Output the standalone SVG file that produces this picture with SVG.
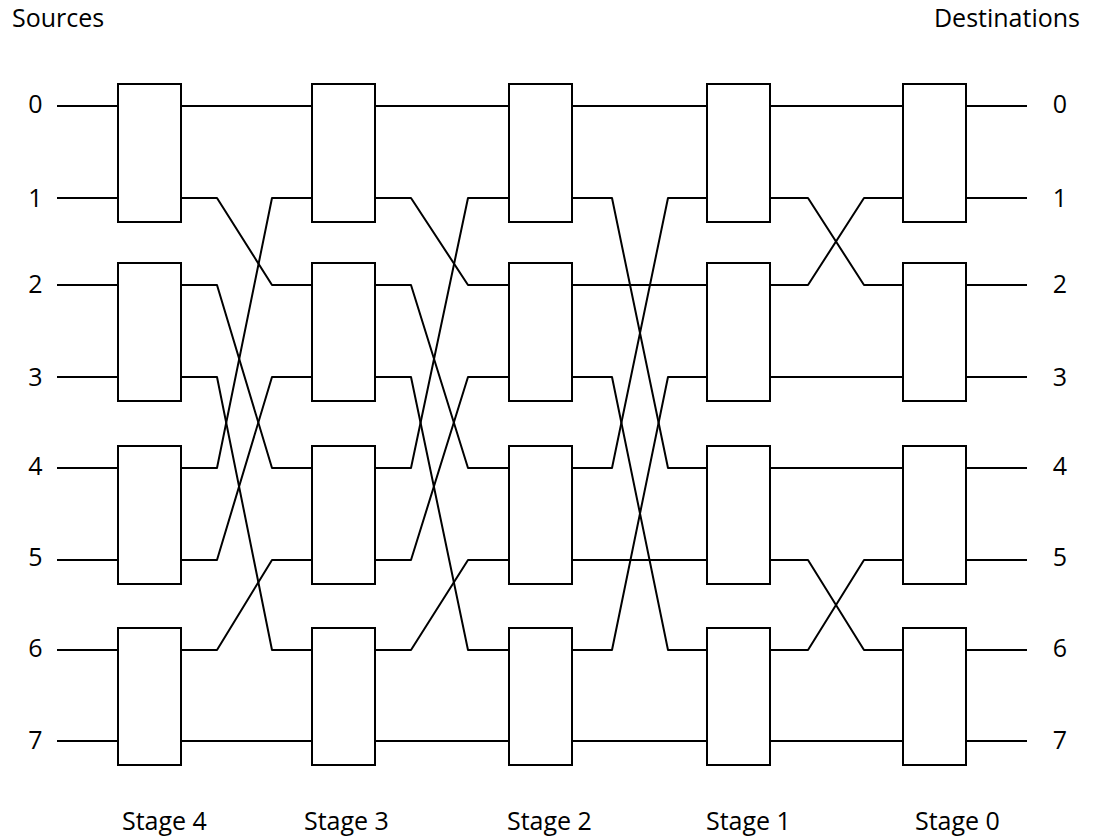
<svg xmlns="http://www.w3.org/2000/svg" width="1093" height="839" viewBox="0 0 1093 839">
  <style>
    .box { fill: #ffffff; stroke: #000000; stroke-width: 2; }
    .wire { fill: none; stroke: #000000; stroke-width: 2; stroke-linejoin: round; }
    .lbl { font-family: "Open Sans", "Liberation Sans", sans-serif; font-size: 25px; fill: #000000; }
    .num { text-anchor: middle; }
  </style>
  <rect width="1093" height="839" fill="#ffffff"/>

  <!-- headings -->
  <g id="headings">
    <text class="lbl" x="12" y="27">Sources</text>
    <text class="lbl" x="1080" y="27" text-anchor="end">Destinations</text>
  </g>

  <!-- line numbers, source side and destination side -->
  <g id="source-numbers">
    <text class="lbl num" x="35.5" y="113">0</text>
    <text class="lbl num" x="35.5" y="207">1</text>
    <text class="lbl num" x="35.5" y="293">2</text>
    <text class="lbl num" x="35.5" y="386">3</text>
    <text class="lbl num" x="35.5" y="475">4</text>
    <text class="lbl num" x="35.5" y="566">5</text>
    <text class="lbl num" x="35.5" y="657">6</text>
    <text class="lbl num" x="35.5" y="749">7</text>
  </g>
  <g id="destination-numbers">
    <text class="lbl num" x="1060" y="113">0</text>
    <text class="lbl num" x="1060" y="207">1</text>
    <text class="lbl num" x="1060" y="293">2</text>
    <text class="lbl num" x="1060" y="386">3</text>
    <text class="lbl num" x="1060" y="475">4</text>
    <text class="lbl num" x="1060" y="566">5</text>
    <text class="lbl num" x="1060" y="657">6</text>
    <text class="lbl num" x="1060" y="749">7</text>
  </g>

  <!-- stage captions -->
  <g id="stage-labels">
    <text class="lbl" x="122" y="830">Stage 4</text>
    <text class="lbl" x="304" y="830">Stage 3</text>
    <text class="lbl" x="507" y="830">Stage 2</text>
    <text class="lbl" x="706" y="830">Stage 1</text>
    <text class="lbl" x="915" y="830">Stage 0</text>
  </g>

  <!-- wiring between stages -->
  <g id="connectors" class="wire">
    <!-- inputs -->
    <path d="M57 106H118M57 198H118M57 285H118M57 377H118M57 468H118M57 560H118M57 650H118M57 741H118"/>
    <!-- stage 4 to stage 3 -->
    <path d="M181 106H312"/>
    <path d="M181 198H217L272 285H312"/>
    <path d="M181 285H217L272 468H312"/>
    <path d="M181 377H217L272 650H312"/>
    <path d="M181 468H217L272 198H312"/>
    <path d="M181 560H217L272 377H312"/>
    <path d="M181 650H217L272 560H312"/>
    <path d="M181 741H312"/>
    <!-- stage 3 to stage 2 -->
    <path d="M375 106H509"/>
    <path d="M375 198H411L468 285H509"/>
    <path d="M375 285H411L468 468H509"/>
    <path d="M375 377H411L468 650H509"/>
    <path d="M375 468H411L468 198H509"/>
    <path d="M375 560H411L468 377H509"/>
    <path d="M375 650H411L468 560H509"/>
    <path d="M375 741H509"/>
    <!-- stage 2 to stage 1 -->
    <path d="M572 106H707"/>
    <path d="M572 198H612L668 468H707"/>
    <path d="M572 285H707"/>
    <path d="M572 377H612L668 650H707"/>
    <path d="M572 468H612L668 198H707"/>
    <path d="M572 560H707"/>
    <path d="M572 650H612L668 377H707"/>
    <path d="M572 741H707"/>
    <!-- stage 1 to stage 0 -->
    <path d="M770 106H903"/>
    <path d="M770 198H808L864 285H903"/>
    <path d="M770 285H808L864 198H903"/>
    <path d="M770 377H903"/>
    <path d="M770 468H903"/>
    <path d="M770 560H808L864 650H903"/>
    <path d="M770 650H808L864 560H903"/>
    <path d="M770 741H903"/>
    <!-- outputs -->
    <path d="M966 106H1027M966 198H1027M966 285H1027M966 377H1027M966 468H1027M966 560H1027M966 650H1027M966 741H1027"/>
  </g>

  <!-- switching elements: stage 4 -->
  <g id="s4-sw0"><rect class="box" x="118" y="84" width="63" height="138"/></g>
  <g id="s4-sw1"><rect class="box" x="118" y="263" width="63" height="138"/></g>
  <g id="s4-sw2"><rect class="box" x="118" y="446" width="63" height="138"/></g>
  <g id="s4-sw3"><rect class="box" x="118" y="628" width="63" height="137"/></g>
  <!-- stage 3 -->
  <g id="s3-sw0"><rect class="box" x="312" y="84" width="63" height="138"/></g>
  <g id="s3-sw1"><rect class="box" x="312" y="263" width="63" height="138"/></g>
  <g id="s3-sw2"><rect class="box" x="312" y="446" width="63" height="138"/></g>
  <g id="s3-sw3"><rect class="box" x="312" y="628" width="63" height="137"/></g>
  <!-- stage 2 -->
  <g id="s2-sw0"><rect class="box" x="509" y="84" width="63" height="138"/></g>
  <g id="s2-sw1"><rect class="box" x="509" y="263" width="63" height="138"/></g>
  <g id="s2-sw2"><rect class="box" x="509" y="446" width="63" height="138"/></g>
  <g id="s2-sw3"><rect class="box" x="509" y="628" width="63" height="137"/></g>
  <!-- stage 1 -->
  <g id="s1-sw0"><rect class="box" x="707" y="84" width="63" height="138"/></g>
  <g id="s1-sw1"><rect class="box" x="707" y="263" width="63" height="138"/></g>
  <g id="s1-sw2"><rect class="box" x="707" y="446" width="63" height="138"/></g>
  <g id="s1-sw3"><rect class="box" x="707" y="628" width="63" height="137"/></g>
  <!-- stage 0 -->
  <g id="s0-sw0"><rect class="box" x="903" y="84" width="63" height="138"/></g>
  <g id="s0-sw1"><rect class="box" x="903" y="263" width="63" height="138"/></g>
  <g id="s0-sw2"><rect class="box" x="903" y="446" width="63" height="138"/></g>
  <g id="s0-sw3"><rect class="box" x="903" y="628" width="63" height="137"/></g>
</svg>
